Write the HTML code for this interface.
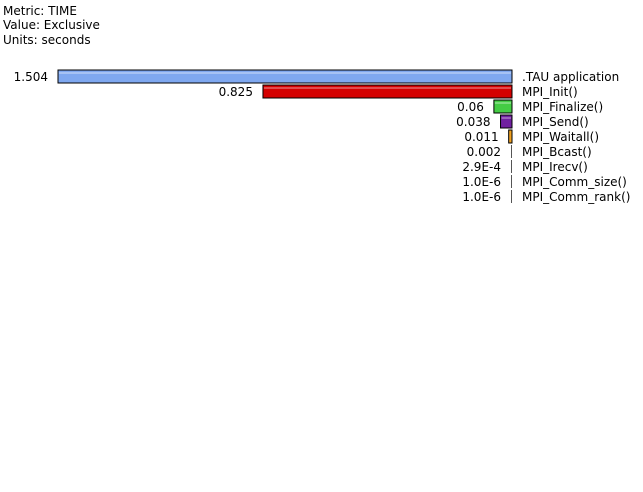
<!DOCTYPE html>
<html><head><meta charset="utf-8"><style>
body{margin:0;width:643px;height:492px;background:#fff;overflow:hidden;font-family:"DejaVu Sans",sans-serif;font-size:12px;color:#000}
.h{position:absolute;left:3px;white-space:nowrap}
</style></head><body>
<div class="h" style="top:4px">Metric: TIME</div>
<div class="h" style="top:18px">Value: Exclusive</div>
<div class="h" style="top:33px">Units: seconds</div>
<svg id="c" width="643" height="492" style="position:absolute;left:0;top:0"></svg>
<script>
const names=[".TAU application","MPI_Init()","MPI_Finalize()","MPI_Send()","MPI_Waitall()","MPI_Bcast()","MPI_Irecv()","MPI_Comm_size()","MPI_Comm_rank()"];
const values=[1.504,0.825,0.06,0.038,0.011,0.002,0.00029,0.000001,0.000001];
const valueLabels=["1.504","0.825","0.06","0.038","0.011","0.002","2.9E-4","1.0E-6","1.0E-6"];
const colors=["#7fa8f0","#d40000","#44cc44","#7020a0","#f0a020","#c0c0c0","#c0c0c0","#c0c0c0","#c0c0c0"];
const svg=document.getElementById('c');const NS="http://www.w3.org/2000/svg";
const right=512,maxW=454,top0=70,pitch=15,bh=13;
const x=v=>v/values[0]*maxW;
names.forEach((n,i)=>{
 const w=Math.max(1,x(values[i])),y=top0+i*pitch;
 const r=document.createElementNS(NS,'rect');
 r.setAttribute('x',right-w);r.setAttribute('y',y);r.setAttribute('width',w);r.setAttribute('height',bh);
 r.setAttribute('fill',w>2?colors[i]:'#555');r.setAttribute('stroke','#000');r.setAttribute('stroke-width',w>2?1:0);
 
 
 svg.appendChild(r);
 if(w>4){const l=document.createElementNS(NS,'line');l.setAttribute('x1',right-w+1);l.setAttribute('x2',right-1);l.setAttribute('y1',y+3);l.setAttribute('y2',y+3);l.setAttribute('stroke','rgba(255,255,255,0.6)');svg.appendChild(l);}
 const t=document.createElementNS(NS,'text');
 t.setAttribute('x',right-w-10);t.setAttribute('y',y+11);t.setAttribute('text-anchor','end');t.setAttribute('font-size','12');t.setAttribute('font-family','DejaVu Sans, sans-serif');
 t.textContent=valueLabels[i];
 
 
 svg.appendChild(t);
 const nl=document.createElementNS(NS,'text');
 nl.setAttribute('x',right+10);nl.setAttribute('y',y+11);nl.setAttribute('font-size','12');nl.setAttribute('font-family','DejaVu Sans, sans-serif');
 nl.textContent=n;
 
 
 svg.appendChild(nl);
});
</script>
</body></html>
